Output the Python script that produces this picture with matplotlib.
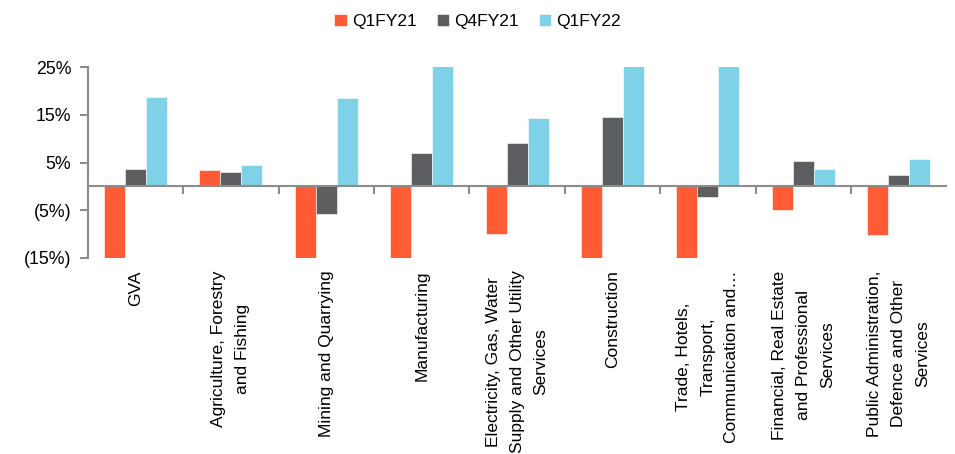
import numpy as np
import matplotlib.pyplot as plt
from matplotlib.ticker import FuncFormatter

plt.rcParams["font.family"] = ["Liberation Sans", "DejaVu Sans"]

categories = [
    "GVA",
    "Agriculture, Forestry\nand Fishing",
    "Mining and Quarrying",
    "Manufacturing",
    "Electricity, Gas, Water\nSupply and Other Utility\nServices",
    "Construction",
    "Trade, Hotels,\nTransport,\nCommunication and…",
    "Financial, Real Estate\nand Professional\nServices",
    "Public Administration,\nDefence and Other\nServices",
]
q1fy21 = [-22.4, 3.5, -17.2, -36.0, -9.9, -49.4, -48.1, -5.0, -10.2]
q4fy21 = [3.7, 3.1, -5.7, 6.9, 9.1, 14.5, -2.3, 5.4, 2.3]
q1fy22 = [18.8, 4.5, 18.6, 49.6, 14.3, 68.3, 34.3, 3.7, 5.8]
series_names = ["Q1FY21", "Q4FY21", "Q1FY22"]
yticks = [-15, -5, 5, 15, 25]

colors = ["#FF5B35", "#5D5E60", "#7ED1E6"]
axis_gray = "#8C8C8C"


def pct_fmt(v, pos):
    if v < 0:
        return f"({abs(v):.0f}%)"
    return f"{v:.0f}%"


fig = plt.figure(figsize=(9.55, 4.54), dpi=100)
ax = fig.add_axes([0.092, 0.432, 0.899, 0.42])

x = np.arange(len(categories))
w = 0.22
for i, (vals, name) in enumerate(zip([q1fy21, q4fy21, q1fy22], series_names)):
    ax.bar(x + (i - 1) * w, vals, width=w, color=colors[i], label=name,
           edgecolor="white", linewidth=0.4)

ax.set_xlim(-0.5, len(categories) - 0.5)
ax.set_ylim(-15, 25)
ax.set_yticks(yticks)
ax.yaxis.set_major_formatter(FuncFormatter(pct_fmt))

for side in ["top", "right"]:
    ax.spines[side].set_visible(False)
ax.spines["bottom"].set_position(("data", 0))
ax.spines["bottom"].set_color(axis_gray)
ax.spines["left"].set_color(axis_gray)
ax.spines["bottom"].set_linewidth(1.5)
ax.spines["left"].set_linewidth(1.5)

# group separators on the zero line
ax.set_xticks(np.arange(0.5, len(categories) - 1, 1.0))
ax.set_xticklabels([])
ax.tick_params(axis="x", direction="out", length=6, width=1.5, color=axis_gray)
ax.tick_params(axis="y", direction="out", length=6, width=1.5, color=axis_gray,
               labelsize=12.8, pad=6)

for i, lab in enumerate(categories):
    ax.text(i, -0.065, lab, transform=ax.get_xaxis_transform(), rotation=90,
            ha="center", va="top", multialignment="center", fontsize=12.5,
            linespacing=1.75)

fig.legend(loc="center", bbox_to_anchor=(0.5, 0.952), ncol=3, frameon=False,
           fontsize=12.5, handlelength=0.7, handleheight=0.7, handletextpad=0.3,
           columnspacing=1.15)

fig.savefig("out.png", dpi=100)
